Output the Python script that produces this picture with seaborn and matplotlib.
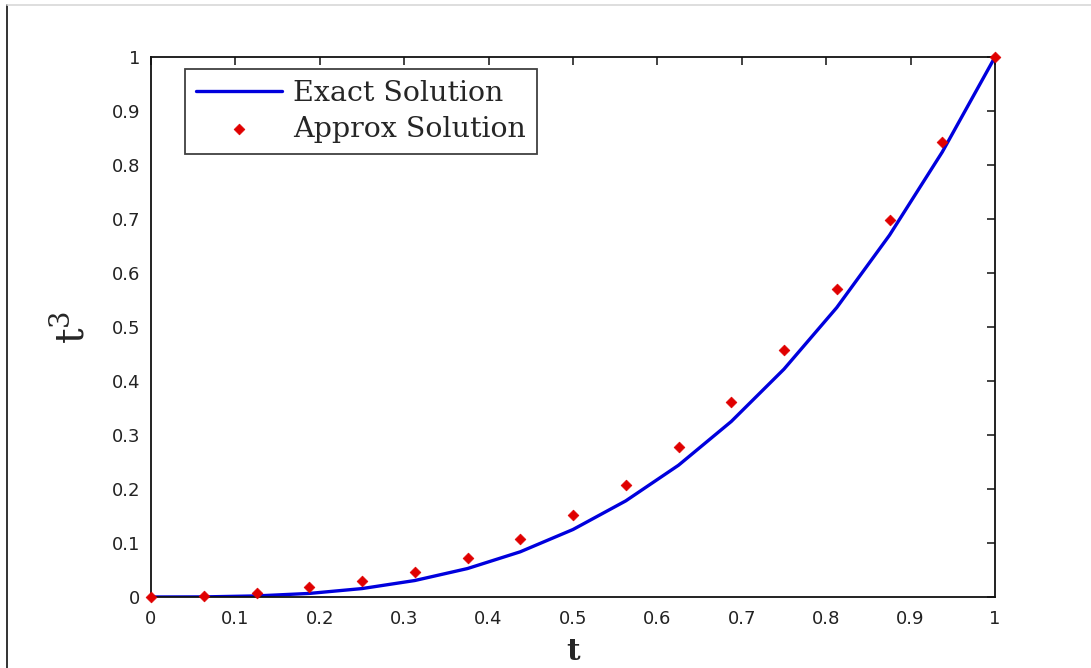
import numpy as np
import pandas as pd
import matplotlib
matplotlib.use("Agg")
import matplotlib.pyplot as plt
from matplotlib.lines import Line2D
import seaborn as sns

# Nodes t = i/16 on [0, 1]
t_nodes = [0.0, 0.0625, 0.125, 0.1875, 0.25, 0.3125, 0.375, 0.4375, 0.5,
           0.5625, 0.625, 0.6875, 0.75, 0.8125, 0.875, 0.9375, 1.0]
# Exact solution values at the nodes
exact_vals = [0.0, 0.0002, 0.002, 0.0066, 0.0156, 0.0305, 0.0527, 0.0837, 0.125,
              0.178, 0.244, 0.325, 0.422, 0.536, 0.670, 0.824, 1.0]
# Approximate solution values at the nodes
approx_vals = [0.0, 0.001, 0.008, 0.018, 0.030, 0.047, 0.072, 0.107, 0.152,
               0.207, 0.278, 0.361, 0.457, 0.570, 0.698, 0.843, 1.0]

x_ticks = [0, 0.1, 0.2, 0.3, 0.4, 0.5, 0.6, 0.7, 0.8, 0.9, 1]
x_tick_labels = ["0", "0.1", "0.2", "0.3", "0.4", "0.5", "0.6", "0.7", "0.8", "0.9", "1"]
y_ticks = x_ticks
y_tick_labels = x_tick_labels

df_exact = pd.DataFrame({"t": t_nodes, "y": exact_vals})
df_approx = pd.DataFrame({"t": t_nodes, "y": approx_vals})

sns.set_style("white")
plt.rcParams["font.family"] = ["DejaVu Sans"]
plt.rcParams["mathtext.fontset"] = "dejavuserif"

fig = plt.figure(figsize=(10.91, 6.68), dpi=100)
ax = fig.add_axes([151 / 1091, 1 - 597 / 668, (995 - 151) / 1091, (597 - 57) / 668])

sns.lineplot(data=df_exact, x="t", y="y", ax=ax, color="#0000dd", linewidth=2.4,
             label="Exact Solution", zorder=2)
sns.scatterplot(data=df_approx, x="t", y="y", ax=ax, color="#e00000", marker="D",
                s=30, edgecolor="#e00000", linewidth=0.5, label="Approx Solution",
                zorder=3, clip_on=False)

ax.set_xlim(0, 1)
ax.set_ylim(0, 1)
ax.set_xticks(x_ticks)
ax.set_xticklabels(x_tick_labels)
ax.set_yticks(y_ticks)
ax.set_yticklabels(y_tick_labels)
ax.tick_params(direction="in", length=6, width=1.2, top=True, right=True,
               labelsize=13, colors="#222222", pad=8)
ax.tick_params(axis="x", pad=9)
for sp in ax.spines.values():
    sp.set_color("#111111")
    sp.set_linewidth(1.3)

ax.set_xlabel("t", fontsize=21, fontweight="bold", family="DejaVu Serif", labelpad=7)
ax.set_ylabel("$\\mathrm{t}^3$", fontsize=28, labelpad=14)

leg = ax.legend(loc="upper left", bbox_to_anchor=(34 / 844, 1 - 12 / 540),
                borderaxespad=0, frameon=True, fancybox=False,
                prop={"family": "DejaVu Serif", "size": 20.5},
                handlelength=3.0, handletextpad=0.4, borderpad=0.4,
                labelspacing=0.3, markerscale=1.0)
leg.get_frame().set_edgecolor("#111111")
leg.get_frame().set_linewidth(1.3)

# Window frame edges
fig.add_artist(Line2D([7 / 1091, 7 / 1091], [0, 1 - 5 / 668], color="#111111",
                      linewidth=1.2, transform=fig.transFigure))
fig.add_artist(Line2D([7 / 1091, 1], [1 - 5 / 668, 1 - 5 / 668], color="#d8d8d8",
                      linewidth=1.2, transform=fig.transFigure))

fig.savefig("out.png", dpi=100, facecolor="white")
